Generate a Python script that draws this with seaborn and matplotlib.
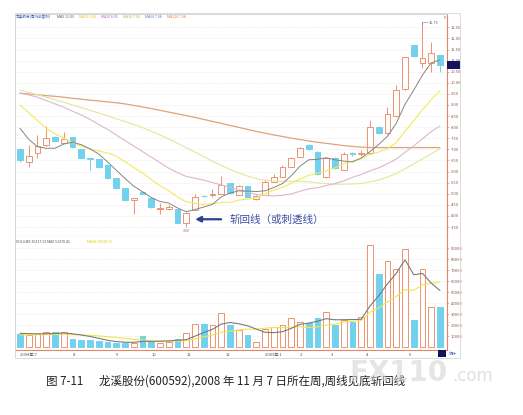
import numpy as np
import pandas as pd
import seaborn as sns
import matplotlib.pyplot as plt
from matplotlib.patches import Rectangle

sns.set_theme(style="white")
plt.rcParams["font.family"] = ["Noto Sans CJK SC", "DejaVu Sans"]

# 龙溪股份 weekly candles (2008-06 .. 2009-05)
opens = [7.00, 6.45, 6.82, 7.20, 7.57, 7.30, 7.54, 7.00, 6.60, 6.55, 6.30, 5.70, 5.25,
         4.70, 5.10, 4.83, 4.30, 4.33, 4.30, 3.67, 4.27, 4.92, 4.96, 5.00, 5.47, 4.95,
         5.35, 4.75, 4.95, 5.55, 5.77, 6.22, 6.67, 7.20, 6.90, 5.75, 6.62, 6.07, 6.82,
         6.80, 6.82, 8.02, 7.73, 8.50, 9.71, 11.70, 10.90, 10.91, 11.25]
highs = [7.05, 7.20, 7.65, 8.05, 7.60, 7.80, 7.56, 7.02, 6.62, 6.57, 6.32, 5.72, 5.27,
         4.82, 5.12, 4.85, 4.60, 4.50, 4.32, 4.17, 4.98, 4.94, 5.20, 5.80, 5.50, 5.40,
         5.37, 4.95, 5.65, 5.90, 6.30, 6.65, 7.10, 7.22, 6.92, 6.65, 6.64, 6.90, 6.90,
         6.95, 8.32, 8.05, 8.92, 9.90, 11.15, 11.72, 12.76, 11.85, 11.27]
lows = [6.45, 6.22, 6.60, 7.15, 7.37, 7.28, 7.05, 6.58, 6.05, 6.20, 5.68, 5.23, 4.70,
        4.08, 4.98, 4.37, 4.10, 4.25, 3.68, 3.50, 4.25, 4.86, 4.85, 4.98, 5.00, 4.93,
        4.82, 4.70, 4.93, 5.53, 5.75, 6.20, 6.65, 6.98, 5.85, 5.72, 6.13, 6.05, 6.70,
        6.72, 6.80, 7.70, 7.70, 8.48, 9.69, 11.18, 10.65, 10.50, 10.50]
closes = [6.50, 6.70, 7.15, 7.50, 7.39, 7.45, 7.12, 6.60, 6.55, 6.22, 5.70, 5.25, 4.72,
          4.80, 5.00, 4.39, 4.35, 4.38, 3.70, 4.15, 4.87, 4.88, 5.00, 5.40, 5.02, 5.35,
          4.84, 4.90, 5.55, 5.77, 6.22, 6.60, 7.05, 7.00, 5.90, 6.60, 6.15, 6.78, 6.78,
          6.84, 8.00, 7.73, 8.60, 9.68, 11.15, 11.20, 11.13, 11.33, 10.78]
volumes = [11500, 11000, 11500, 13400, 14000, 14000, 7000, 6500, 6500, 5500, 5000, 3400,
           3400, 4000, 10000, 5000, 4000, 5000, 7000, 12400, 21000, 20500, 19700, 30600,
           19700, 15500, 11000, 4800, 16000, 17900, 20000, 26000, 23000, 22000, 26000,
           32000, 19700, 24500, 22700, 27000, 92700, 66400, 78200, 70600, 88800, 24500,
           70600, 36600, 36000]

ma5 = [7.95, 7.45, 7.12, 7.05, 7.05, 7.24, 7.32, 7.21, 7.02, 6.79, 6.44, 6.06, 5.69, 5.34,
       5.09, 4.83, 4.65, 4.58, 4.36, 4.19, 4.29, 4.40, 4.52, 4.86, 5.03, 5.13, 5.12, 5.10,
       5.13, 5.28, 5.46, 5.81, 6.24, 6.53, 6.55, 6.62, 6.53, 6.47, 6.43, 6.61, 6.90, 7.22,
       7.59, 8.17, 9.03, 9.67, 10.35, 10.90, 11.03]
ma10 = [9.00, 8.65, 8.30, 7.95, 7.70, 7.50, 7.30, 7.15, 7.02, 6.92, 6.84, 6.69, 6.45, 6.18,
        5.94, 5.64, 5.36, 5.14, 4.85, 4.64, 4.56, 4.52, 4.55, 4.61, 4.61, 4.71, 4.76, 4.81,
        5.00, 5.16, 5.29, 5.47, 5.67, 5.83, 5.92, 6.04, 6.17, 6.35, 6.48, 6.58, 6.76, 6.88,
        7.03, 7.30, 7.82, 8.29, 8.79, 9.24, 9.64]
ma20 = [9.53, 9.45, 9.35, 9.20, 9.05, 8.90, 8.72, 8.55, 8.35, 8.12, 7.90, 7.65, 7.40, 7.15,
        6.90, 6.65, 6.40, 6.15, 5.95, 5.78, 5.70, 5.61, 5.50, 5.40, 5.28, 5.17, 5.06, 4.97,
        4.92, 4.90, 4.93, 4.99, 5.11, 5.22, 5.27, 5.37, 5.46, 5.58, 5.74, 5.87, 6.03, 6.17,
        6.35, 6.56, 6.87, 7.16, 7.48, 7.80, 8.05]
ma30 = [9.68, 9.57, 9.46, 9.35, 9.24, 9.12, 9.00, 8.88, 8.76, 8.64, 8.51, 8.38, 8.25, 8.12,
        7.98, 7.82, 7.65, 7.47, 7.28, 7.08, 6.88, 6.67, 6.47, 6.28, 6.10, 5.94, 5.80, 5.68,
        5.60, 5.57, 5.56, 5.56, 5.56, 5.54, 5.49, 5.46, 5.43, 5.43, 5.44, 5.46, 5.54, 5.62,
        5.75, 5.91, 6.12, 6.35, 6.57, 6.80, 7.04]
ma60 = [9.53, 9.50, 9.46, 9.42, 9.39, 9.35, 9.30, 9.26, 9.22, 9.18, 9.14, 9.10, 9.05, 8.98,
        8.91, 8.84, 8.76, 8.68, 8.60, 8.52, 8.44, 8.35, 8.26, 8.17, 8.08, 7.99, 7.90, 7.81,
        7.73, 7.65, 7.58, 7.51, 7.44, 7.38, 7.32, 7.27, 7.22, 7.17, 7.13, 7.10, 7.08, 7.08,
        7.08, 7.08, 7.08, 7.08, 7.08, 7.08, 7.08]
vol_ma5 = [12400, 12200, 12000, 12100, 12280, 12780, 11980, 10980, 9600, 7900, 6100, 4980,
           4360, 4260, 5160, 5160, 5280, 5600, 6200, 6680, 9880, 13180, 16120, 20840, 22300,
           21200, 19300, 16320, 13400, 13040, 13940, 16940, 20580, 21780, 23400, 25800,
           24740, 24840, 24980, 25180, 37320, 46660, 57400, 66980, 79340, 65700, 66940,
           58100, 51300]
vol_ma10 = [11000, 11100, 11200, 11300, 11400, 11500, 11300, 11000, 10600, 10090, 9440, 8680,
            7870, 6930, 6530, 5630, 5330, 5180, 5230, 5920, 7520, 9230, 10860, 13520, 14490,
            15540, 16240, 16220, 17120, 17670, 17570, 18120, 18450, 17590, 18220, 19870,
            20740, 22710, 23380, 24290, 31560, 35600, 41120, 45980, 52260, 51510, 56600,
            57810, 59140]

month_pos = [0, 6, 11, 15, 19, 23.5, 28, 32, 35.5, 39.5, 44.5]
month_labels = ["2008年 7", "8", "9", "10", "11", "12", "2009年 1", "2", "3", "4", "5"]

price_ticks = np.arange(3.5, 12.51, 0.5)
vol_ticks = np.arange(10000, 90001, 10000)

df = pd.DataFrame({"week": np.arange(len(closes)), "open": opens, "high": highs,
                   "low": lows, "close": closes, "volume": volumes})
df["up"] = df["close"] >= df["open"]

W, H = 523, 415
UP_C = "#ee9270"
DN_C = "#72d2ee"
FRAME_C = "#e2866a"


def fx(px):
    return px / W


def fy(py):
    return 1 - py / H


fig = plt.figure(figsize=(W / 100, H / 100), dpi=100)
fig.patch.set_facecolor("white")

L, R = 15, 447
ax = fig.add_axes([fx(L), fy(237), fx(R) - fx(L), fy(14) - fy(237)])
axv = fig.add_axes([fx(L), fy(350), fx(R) - fx(L), fy(237) - fy(350)], sharex=ax)

xmin, xmax = -0.57, 48.8

# ---- price panel ----
for y in price_ticks:
    ax.axhline(y, color="#e4e4e4", lw=0.5, ls=(0, (1, 1.5)), zorder=0)

for i, r in df.iterrows():
    col = UP_C if r["up"] else DN_C
    ax.vlines(r["week"], r["low"], r["high"], color=col, lw=0.7, zorder=2)
    bottom = min(r["open"], r["close"])
    height = max(abs(r["close"] - r["open"]), 0.03)
    ax.add_patch(Rectangle((r["week"] - 0.34, bottom), 0.68, height,
                           facecolor="white" if r["up"] else DN_C,
                           edgecolor=col, lw=0.7, zorder=3))

ma_lines = [(ma60, "#dfa27a", 0.9), (ma30, "#e2e79a", 0.8), (ma20, "#dfb4d4", 0.8),
            (ma10, "#f2ea5a", 0.8), (ma5, "#858585", 0.7)]
for vals, c, lw in ma_lines:
    sns.lineplot(x=df["week"], y=vals, ax=ax, color=c, lw=lw, zorder=4)

ax.set_xlim(xmin, xmax)
ax.set_ylim(3.05, 13.1)
ax.yaxis.tick_right()
ax.set_yticks(price_ticks)
ax.set_yticklabels(["%.2f" % t for t in price_ticks], fontsize=3, color="#8a5a50")
ax.tick_params(axis="y", length=1.5, width=0.4, color=FRAME_C, pad=1.5)
ax.tick_params(axis="x", length=0, labelbottom=False)
ax.set_xlabel("")
ax.set_ylabel("")
for s in ["top", "left"]:
    ax.spines[s].set_color("#cfcfcf")
    ax.spines[s].set_linewidth(0.6)
ax.spines["right"].set_color(FRAME_C)
ax.spines["right"].set_linewidth(0.8)
ax.spines["bottom"].set_color(FRAME_C)
ax.spines["bottom"].set_linewidth(0.8)

# annotations
ax.annotate("", xy=(19.7, 3.85), xytext=(23.3, 3.85),
            arrowprops=dict(arrowstyle="-|>", color="#2c3f95", lw=1.6,
                            mutation_scale=8), zorder=6)
ax.text(23.9, 3.85, "斩回线（或刺透线）", fontsize=7.6, color="#3d4fa0",
        va="center", ha="left", zorder=6)
ax.text(19, 3.42, "3.50", fontsize=2.6, color="#707070", ha="center", va="top")
ax.plot([46, 46, 46.6], [12.6, 12.76, 12.76], color="#7080b0", lw=0.4)
ax.text(46.7, 12.7, "12.76", fontsize=2.8, color="#606080", ha="left", va="center")
ax.add_patch(Rectangle((1.001, 10.62), 0.03, 0.35, transform=ax.get_yaxis_transform(),
                       facecolor="#14145a", edgecolor="none", clip_on=False, zorder=6))
ax.text(48.55, 13.0, "5", fontsize=3, color="#d03030", ha="center", va="top")

# header line
hdr = [("龙溪股份(周线前复权)", "#3d5fae", 15.5), ("MA5 11.03", "#505050", 57),
       ("MA10 9.64", "#d8c800", 79), ("MA20 8.05", "#c05ac0", 101),
       ("MA30 7.04", "#a6c040", 123), ("MA60 7.08", "#5a7ac8", 145),
       ("MA120 7.08", "#d98040", 167)]
for t, c, x in hdr:
    fig.text(fx(x), fy(17.5), t, fontsize=2.6, color=c, va="center", ha="left")

# ---- volume panel ----
for y in vol_ticks:
    axv.axhline(y, color="#e4e4e4", lw=0.5, ls=(0, (1, 1.5)), zorder=0)

for i, r in df.iterrows():
    col = UP_C if r["up"] else DN_C
    axv.add_patch(Rectangle((r["week"] - 0.34, 0), 0.68, r["volume"],
                            facecolor="white" if r["up"] else DN_C,
                            edgecolor=col, lw=0.7, zorder=3))

sns.lineplot(x=df["week"], y=vol_ma10, ax=axv, color="#efe64a", lw=0.8, zorder=4)
sns.lineplot(x=df["week"], y=vol_ma5, ax=axv, color="#7a7a7a", lw=0.8, zorder=4)

axv.set_xlim(xmin, xmax)
axv.set_ylim(-2700, 100000)
axv.yaxis.tick_right()
axv.set_yticks(vol_ticks)
axv.set_yticklabels(["%d" % t for t in vol_ticks], fontsize=3, color="#8a5a50")
axv.tick_params(axis="y", length=1.5, width=0.4, color=FRAME_C, pad=1.5)
axv.set_xticks(month_pos)
axv.set_xticklabels(month_labels, fontsize=3, color="#505050")
axv.tick_params(axis="x", length=2, width=0.4, color=FRAME_C, pad=0.5)
for lab in axv.get_xticklabels():
    lab.set_horizontalalignment("left")
axv.set_xlabel("")
axv.set_ylabel("")
axv.spines["left"].set_color("#cfcfcf")
axv.spines["left"].set_linewidth(0.6)
axv.spines["top"].set_visible(False)
for s in ["right", "bottom"]:
    axv.spines[s].set_color(FRAME_C)
    axv.spines[s].set_linewidth(0.8)

fig.text(fx(16), fy(241.5), "VOLUME 35317.63 MA5 51370.41", fontsize=2.6,
         color="#505050", va="center", ha="left")
fig.text(fx(87), fy(241.5), "MA10 59138.72", fontsize=2.6, color="#d8c800",
         va="center", ha="left")

# outer frame around the label column and date strip
fig.add_artist(Rectangle((fx(L), fy(358)), fx(460) - fx(L), fy(13) - fy(358),
                         transform=fig.transFigure, fill=False,
                         edgecolor="#d6d6d6", lw=0.6))
fig.add_artist(Rectangle((fx(438), fy(357)), fx(446) - fx(438), fy(350) - fy(357),
                         transform=fig.transFigure, facecolor="#14145a",
                         edgecolor="none"))
fig.text(fx(449), fy(353.5), "统计", fontsize=2.8, color="#3050c0", va="center")

# caption
fig.text(fx(46), fy(381), "图 7-11", fontsize=8.3, color="#222222", va="center")
fig.text(fx(99), fy(381), "龙溪股份(600592),2008 年 11 月 7 日所在周,周线见底斩回线",
         fontsize=8.3, color="#222222", va="center")

# watermark
fig.text(fx(350), fy(373), "FX110", fontsize=20, fontweight="bold",
         color="#d4d4d4", alpha=0.6, va="center", ha="left", family="DejaVu Sans")
fig.text(fx(452), fy(376), ".com", fontsize=12, color="#d4d4d4", alpha=0.7,
         va="center", ha="left", family="DejaVu Sans")

fig.savefig("out.png", dpi=100, facecolor="white")
